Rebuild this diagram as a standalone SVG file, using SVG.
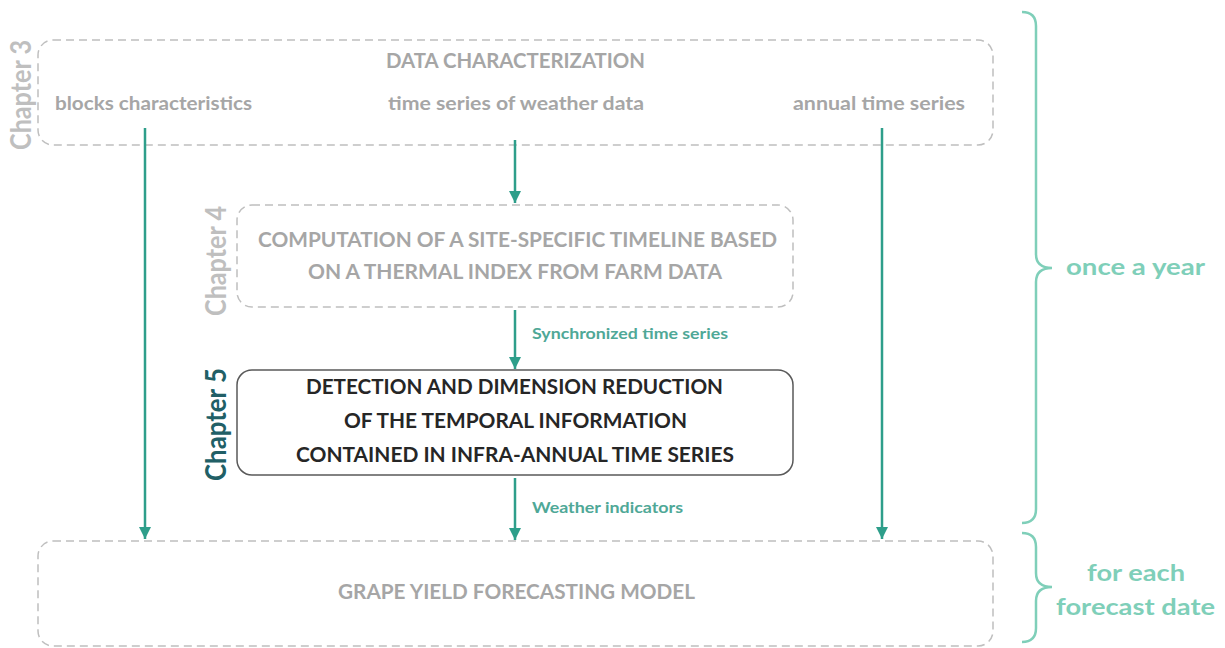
<svg xmlns="http://www.w3.org/2000/svg" width="1225" height="648" viewBox="0 0 1225 648">
<style>
text{font-family:Lato,"Open Sans","Liberation Sans",sans-serif;font-weight:700}
.dash{fill:none;stroke:#bfbfbf;stroke-width:1.5;stroke-dasharray:8 5}
.solid{fill:#fff;stroke:#595959;stroke-width:1.5}
.gt{fill:#a6a6a6;font-size:20px}
.sub{fill:#a6a6a6;font-size:18px}
.bt{fill:#262626;font-size:20px}
.ch{fill:#bfbfbf;font-size:28px}
.ch5{fill:#215f66;font-size:28px}
.arr{stroke:#2e9e8a;stroke-width:2.5;fill:none;marker-end:url(#ah)}
.lab{fill:#4fa897;font-size:15px}
.br{fill:none;stroke:#7fcfb9;stroke-width:2.5}
.bl{fill:#7fcfb9;font-size:23px}
</style>
<defs>
<marker id="ah" viewBox="0 0 10 10" refX="10" refY="5" markerWidth="5" markerHeight="5" orient="auto" markerUnits="strokeWidth">
<path d="M0,0 L10,5 L0,10 z" fill="#2e9e8a"/>
</marker>
</defs>
<g id="ch3">
<rect class="dash" x="38" y="40" width="955" height="105" rx="15"/>
<text class="gt" x="515.5" y="68" text-anchor="middle" textLength="259" lengthAdjust="spacingAndGlyphs">DATA CHARACTERIZATION</text>
<text class="sub" x="55" y="110" textLength="197" lengthAdjust="spacingAndGlyphs">blocks characteristics</text>
<text class="sub" x="388" y="110" textLength="256" lengthAdjust="spacingAndGlyphs">time series of weather data</text>
<text class="sub" x="793" y="110" textLength="172" lengthAdjust="spacingAndGlyphs">annual time series</text>
<text class="ch" transform="translate(31,150) rotate(-90)" textLength="110" lengthAdjust="spacingAndGlyphs">Chapter 3</text>
</g>
<g id="ch4">
<rect class="dash" x="237" y="205" width="556" height="102" rx="15"/>
<text class="gt" x="517.5" y="247" text-anchor="middle" textLength="519" lengthAdjust="spacingAndGlyphs">COMPUTATION OF A SITE-SPECIFIC TIMELINE BASED</text>
<text class="gt" x="515" y="279" text-anchor="middle" textLength="414" lengthAdjust="spacingAndGlyphs">ON A THERMAL INDEX FROM FARM DATA</text>
<text class="ch" transform="translate(226,316) rotate(-90)" textLength="110" lengthAdjust="spacingAndGlyphs">Chapter 4</text>
</g>
<g id="ch5">
<rect class="solid" x="237" y="370" width="556" height="105" rx="15"/>
<text class="bt" x="514.5" y="394" text-anchor="middle" textLength="417" lengthAdjust="spacingAndGlyphs">DETECTION AND DIMENSION REDUCTION</text>
<text class="bt" x="515.5" y="428" text-anchor="middle" textLength="343" lengthAdjust="spacingAndGlyphs">OF THE TEMPORAL INFORMATION</text>
<text class="bt" x="515" y="462" text-anchor="middle" textLength="438" lengthAdjust="spacingAndGlyphs">CONTAINED IN INFRA-ANNUAL TIME SERIES</text>
<text class="ch5" transform="translate(226,481) rotate(-90)" textLength="113" lengthAdjust="spacingAndGlyphs">Chapter 5</text>
</g>
<g id="model">
<rect class="dash" x="38" y="541" width="955" height="105" rx="15"/>
<text class="gt" x="516.5" y="599" text-anchor="middle" textLength="357" lengthAdjust="spacingAndGlyphs">GRAPE YIELD FORECASTING MODEL</text>
</g>
<g id="connectors">
<line class="arr" x1="145" y1="128" x2="145" y2="539"/>
<line class="arr" x1="515" y1="140" x2="515" y2="203"/>
<line class="arr" x1="515" y1="310" x2="515" y2="369"/>
<line class="arr" x1="515" y1="478" x2="515" y2="540"/>
<line class="arr" x1="882" y1="128" x2="882" y2="539"/>
<text class="lab" x="532" y="339" textLength="196" lengthAdjust="spacingAndGlyphs">Synchronized time series</text>
<text class="lab" x="532" y="513" textLength="151" lengthAdjust="spacingAndGlyphs">Weather indicators</text>
</g>
<g id="braces">
<path class="br" d="M1022,12 Q1036,12 1036,26 L1036,254 Q1036,268 1052,268 Q1036,268 1036,282 L1036,509 Q1036,523 1022,523"/>
<path class="br" d="M1022,533 Q1036,533 1036,547 L1036,573 Q1036,587 1052,587 Q1036,587 1036,601 L1036,628 Q1036,642 1022,642"/>
<text class="bl" x="1066" y="275" textLength="139" lengthAdjust="spacingAndGlyphs">once a year</text>
<text class="bl" x="1136" y="581" text-anchor="middle" textLength="98" lengthAdjust="spacingAndGlyphs">for each</text>
<text class="bl" x="1135.5" y="615" text-anchor="middle" textLength="159" lengthAdjust="spacingAndGlyphs">forecast date</text>
</g>
</svg>
